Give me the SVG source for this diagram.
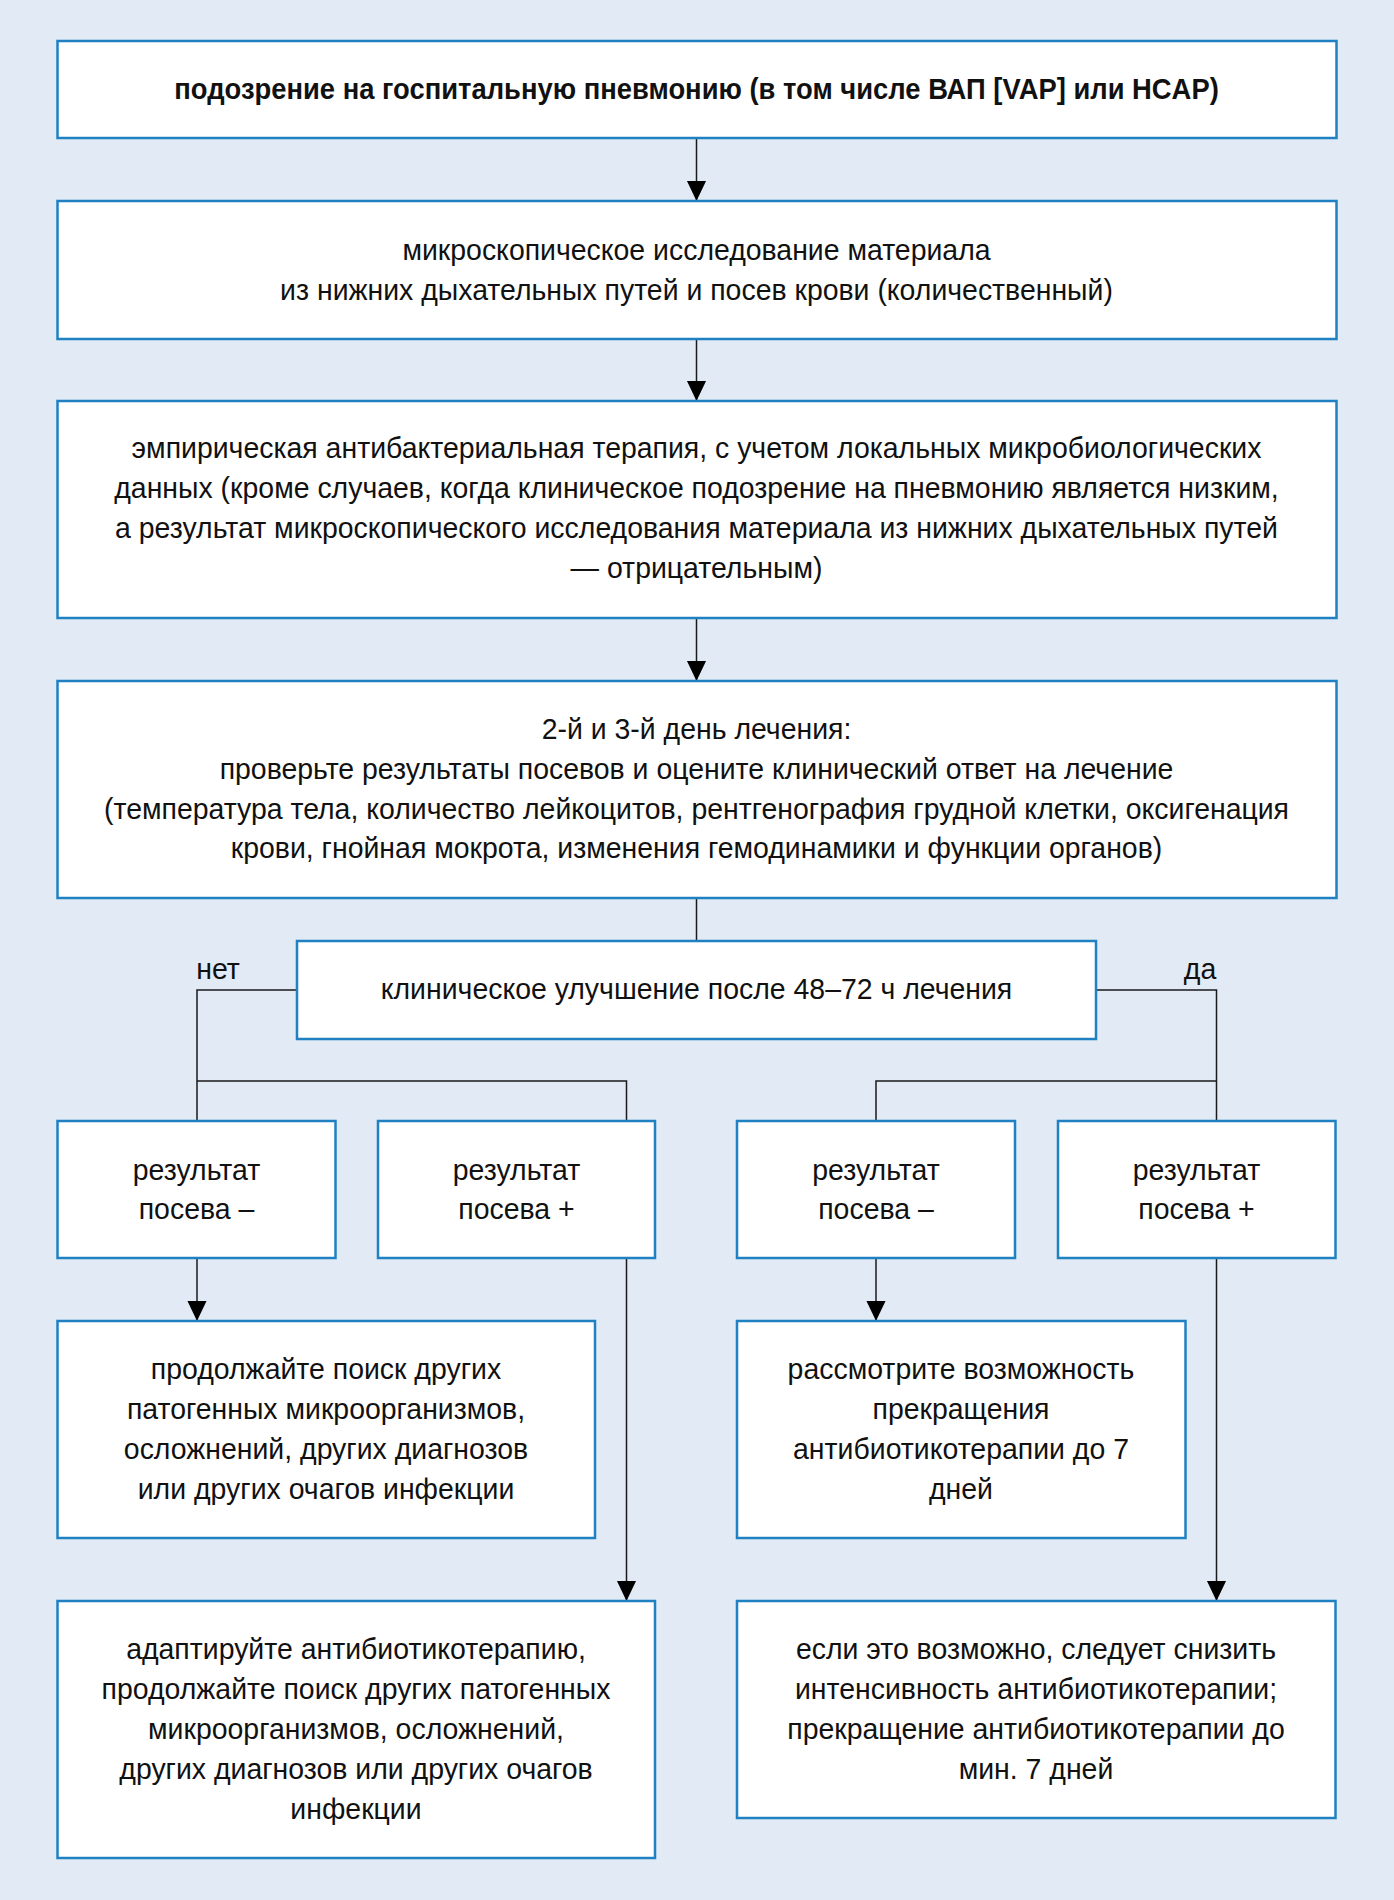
<svg xmlns="http://www.w3.org/2000/svg" width="1394" height="1900" viewBox="0 0 1394 1900">
<defs>
<style>
.bg{fill:#e1eaf5}
.box{fill:#ffffff;stroke:#1f80c2;stroke-width:2.5}
.t{font-family:"Liberation Sans",Arial,sans-serif;font-size:30px;fill:#111111;text-anchor:middle}
.b{font-weight:bold}
.c{fill:none;stroke:#1a1a1a;stroke-width:1.5}
.lbl{font-family:"Liberation Sans",Arial,sans-serif;font-size:30px;fill:#111111;text-anchor:middle}
</style>
<marker id="ah" markerUnits="userSpaceOnUse" markerWidth="20" markerHeight="21" refX="21" refY="10" orient="auto" viewBox="0 0 21 20">
<path d="M0,0 L21,10 L0,20 Z" fill="#000000"/>
</marker>
</defs>
<rect class="bg" x="0" y="0" width="1394" height="1900"/>

<g id="connectors">
<path class="c" d="M696.5 138 V201" marker-end="url(#ah)"/>
<path class="c" d="M696.5 339 V401" marker-end="url(#ah)"/>
<path class="c" d="M696.5 618 V681" marker-end="url(#ah)"/>
<path class="c" d="M696.5 898 V941"/>
<path class="c" d="M297 990 H197 V1121"/>
<path class="c" d="M197 1081 H626.5 V1121"/>
<path class="c" d="M1096 990 H1216.5 V1121"/>
<path class="c" d="M876 1121 V1081 H1216.5"/>
<path class="c" d="M197 1258 V1321" marker-end="url(#ah)"/>
<path class="c" d="M626.5 1258 V1601" marker-end="url(#ah)"/>
<path class="c" d="M876 1258 V1321" marker-end="url(#ah)"/>
<path class="c" d="M1216.5 1258 V1601" marker-end="url(#ah)"/>
<g transform="translate(218 0) scale(0.95 1)"><text class="lbl" x="0" y="979">нет</text></g>
<g transform="translate(1200 0) scale(0.95 1)"><text class="lbl" x="0" y="979">да</text></g>
</g>

<g id="n1">
<rect class="box" x="57.5" y="41" width="1279" height="97"/>
<g transform="translate(696.5 0) scale(0.913 1)">
<text class="t b" x="0" y="99">подозрение на госпитальную пневмонию (в том числе ВАП [VAP] или HCAP)</text>
</g>
</g>

<g id="n2">
<rect class="box" x="57.5" y="201" width="1279" height="138"/>
<g transform="translate(696.5 0) scale(0.948 1)">
<text class="t" x="0" y="260">микроскопическое исследование материала</text>
<text class="t" x="0" y="300">из нижних дыхательных путей и посев крови (количественный)</text>
</g>
</g>

<g id="n3">
<rect class="box" x="57.5" y="401" width="1279" height="217"/>
<g transform="translate(696.5 0) scale(0.948 1)">
<text class="t" x="0" y="458">эмпирическая антибактериальная терапия, с учетом локальных микробиологических</text>
<text class="t" x="0" y="498">данных (кроме случаев, когда клиническое подозрение на пневмонию является низким,</text>
<text class="t" x="0" y="538">а результат микроскопического исследования материала из нижних дыхательных путей</text>
<text class="t" x="0" y="578">— отрицательным)</text>
</g>
</g>

<g id="n4">
<rect class="box" x="57.5" y="681" width="1279" height="217"/>
<g transform="translate(696.5 0) scale(0.948 1)">
<text class="t" x="0" y="739">2-й и 3-й день лечения:</text>
<text class="t" x="0" y="779">проверьте результаты посевов и оцените клинический ответ на лечение</text>
<text class="t" x="0" y="819">(температура тела, количество лейкоцитов, рентгенография грудной клетки, оксигенация</text>
<text class="t" x="0" y="858">крови, гнойная мокрота, изменения гемодинамики и функции органов)</text>
</g>
</g>

<g id="n5">
<rect class="box" x="297" y="941" width="799" height="98"/>
<g transform="translate(696.5 0) scale(0.948 1)">
<text class="t" x="0" y="999">клиническое улучшение после 48–72 ч лечения</text>
</g>
</g>

<g id="n6a">
<rect class="box" x="57.5" y="1121" width="278" height="137"/>
<g transform="translate(196.5 0) scale(0.948 1)">
<text class="t" x="0" y="1180">результат</text>
<text class="t" x="0" y="1219">посева –</text>
</g>
</g>

<g id="n6b">
<rect class="box" x="378" y="1121" width="277" height="137"/>
<g transform="translate(516.5 0) scale(0.948 1)">
<text class="t" x="0" y="1180">результат</text>
<text class="t" x="0" y="1219">посева +</text>
</g>
</g>

<g id="n6c">
<rect class="box" x="737" y="1121" width="278" height="137"/>
<g transform="translate(876 0) scale(0.948 1)">
<text class="t" x="0" y="1180">результат</text>
<text class="t" x="0" y="1219">посева –</text>
</g>
</g>

<g id="n6d">
<rect class="box" x="1058" y="1121" width="277.5" height="137"/>
<g transform="translate(1196.5 0) scale(0.948 1)">
<text class="t" x="0" y="1180">результат</text>
<text class="t" x="0" y="1219">посева +</text>
</g>
</g>

<g id="n7a">
<rect class="box" x="57.5" y="1321" width="537.5" height="217"/>
<g transform="translate(326 0) scale(0.948 1)">
<text class="t" x="0" y="1379.5">продолжайте поиск других</text>
<text class="t" x="0" y="1419.5">патогенных микроорганизмов,</text>
<text class="t" x="0" y="1459.5">осложнений, других диагнозов</text>
<text class="t" x="0" y="1499.5">или других очагов инфекции</text>
</g>
</g>

<g id="n7b">
<rect class="box" x="737" y="1321" width="448.5" height="217"/>
<g transform="translate(961 0) scale(0.948 1)">
<text class="t" x="0" y="1379.5">рассмотрите возможность</text>
<text class="t" x="0" y="1419.5">прекращения</text>
<text class="t" x="0" y="1459.5">антибиотикотерапии до 7</text>
<text class="t" x="0" y="1499.5">дней</text>
</g>
</g>

<g id="n8a">
<rect class="box" x="57.5" y="1601" width="597.5" height="257"/>
<g transform="translate(356 0) scale(0.948 1)">
<text class="t" x="0" y="1659">адаптируйте антибиотикотерапию,</text>
<text class="t" x="0" y="1699">продолжайте поиск других патогенных</text>
<text class="t" x="0" y="1739">микроорганизмов, осложнений,</text>
<text class="t" x="0" y="1779">других диагнозов или других очагов</text>
<text class="t" x="0" y="1819">инфекции</text>
</g>
</g>

<g id="n8b">
<rect class="box" x="737" y="1601" width="598.5" height="217"/>
<g transform="translate(1036 0) scale(0.948 1)">
<text class="t" x="0" y="1659">если это возможно, следует снизить</text>
<text class="t" x="0" y="1699">интенсивность антибиотикотерапии;</text>
<text class="t" x="0" y="1739">прекращение антибиотикотерапии до</text>
<text class="t" x="0" y="1779">мин. 7 дней</text>
</g>
</g>
</svg>
